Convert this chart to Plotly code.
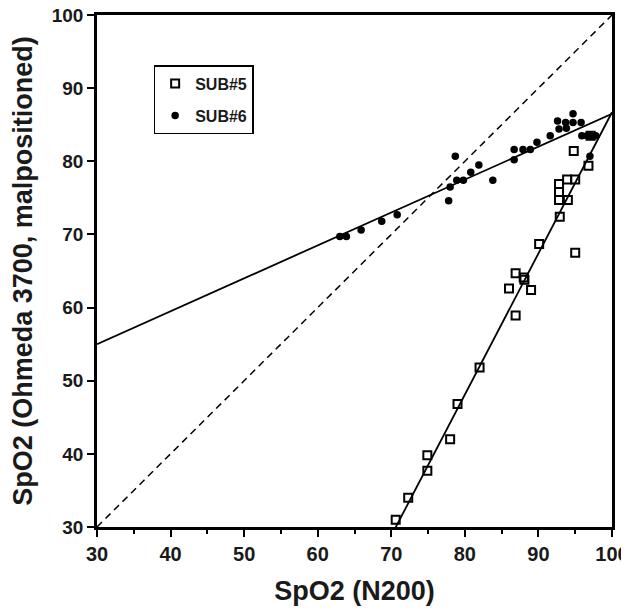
import plotly.graph_objects as go

# SUB#5 (open squares): SpO2 N200 vs SpO2 Ohmeda 3700 (malpositioned)
sub5_x = [70.6, 72.3, 74.9, 74.9, 78.0, 79.0, 82.0, 86.0, 86.9, 86.9, 88.0, 88.1, 89.0,
          90.1, 92.8, 92.8, 92.8, 92.9, 93.9, 94.0, 95.0, 95.0, 94.8, 96.8, 97.1]
sub5_y = [31.0, 34.0, 39.8, 37.7, 42.0, 46.8, 51.8, 62.6, 64.7, 58.9, 64.1, 63.8, 62.4,
          68.7, 76.9, 75.8, 74.7, 72.4, 77.5, 74.7, 77.5, 67.5, 81.4, 79.4, 83.5]

# SUB#6 (filled dots)
sub6_x = [63.0, 63.9, 65.9, 68.7, 70.8, 77.8, 78.0, 78.7, 78.9, 79.8, 80.8, 81.9, 83.8,
          86.7, 86.7, 87.9, 88.9, 89.8, 91.6, 92.6, 92.8, 93.7, 93.8, 94.7, 94.7,
          95.8, 95.9, 96.6, 97.1, 97.8, 97.0]
sub6_y = [69.7, 69.7, 70.6, 71.8, 72.7, 74.6, 76.5, 80.7, 77.4, 77.4, 78.5, 79.5, 77.4,
          81.6, 80.2, 81.6, 81.6, 82.6, 83.5, 85.5, 84.4, 85.3, 84.5, 86.5, 85.3,
          85.3, 83.5, 83.5, 83.5, 83.5, 80.7]

# regression lines (slope, intercept) and identity line
sub5_fit = (1.93, -106.3)
sub6_fit = (0.45, 41.5)
axis_range = [30, 100]

fig = go.Figure()

fig.add_trace(go.Scatter(x=axis_range, y=axis_range, mode="lines",
                         line=dict(color="black", width=1.5, dash="7px,5px"),
                         showlegend=False, hoverinfo="skip"))
for slope, icpt in [sub5_fit, sub6_fit]:
    fig.add_trace(go.Scatter(x=axis_range, y=[slope * v + icpt for v in axis_range],
                             mode="lines", line=dict(color="black", width=1.8),
                             showlegend=False, hoverinfo="skip"))

fig.add_trace(go.Scatter(x=sub5_x, y=sub5_y, mode="markers", name="SUB#5",
                         legendgroup="a",
                         marker=dict(symbol="square-open", size=8, color="black",
                                     line=dict(width=2, color="black"))))
fig.add_trace(go.Scatter(x=sub6_x, y=sub6_y, mode="markers", name="SUB#6",
                         legendgroup="b",
                         marker=dict(symbol="circle", size=7.5, color="black")))

font = "Liberation Sans, Arial, sans-serif"
axis_common = dict(range=axis_range, showgrid=False, zeroline=False, automargin=False,
                   showline=True, linecolor="black", linewidth=2.5, mirror=True,
                   ticks="outside", ticklen=7, tickwidth=2, tickcolor="black",
                   ticklabeloverflow="allow", dtick=10)

fig.update_xaxes(**axis_common,
                 tickfont=dict(family=font, size=20, color="#1a1a1a", weight="bold"),
                 minor=dict(dtick=5, ticks="outside", ticklen=4, tickwidth=2,
                            tickcolor="black"),
                 title=dict(text="SpO2 (N200)", standoff=26,
                            font=dict(family=font, size=27, color="#1a1a1a", weight="bold")))
fig.update_yaxes(**axis_common,
                 tickfont=dict(family=font, size=19, color="#1a1a1a", weight="bold"),
                 title=dict(text="SpO2 (Ohmeda 3700, malpositioned)", standoff=13,
                            font=dict(family=font, size=27, color="#1a1a1a", weight="bold")))

# the page body offsets the figure by 8px, margins account for that
fig.update_layout(
    width=621, height=598,
    margin=dict(l=89, r=17, t=7, b=79),
    plot_bgcolor="white", paper_bgcolor="white",
    legend=dict(x=0.11, y=0.902, xanchor="left", yanchor="top",
                bordercolor="black", borderwidth=1.5, bgcolor="white",
                traceorder="grouped", tracegroupgap=8,
                font=dict(family=font, size=16, color="#1a1a1a", weight="bold")),
)

fig.write_html("out.html")
